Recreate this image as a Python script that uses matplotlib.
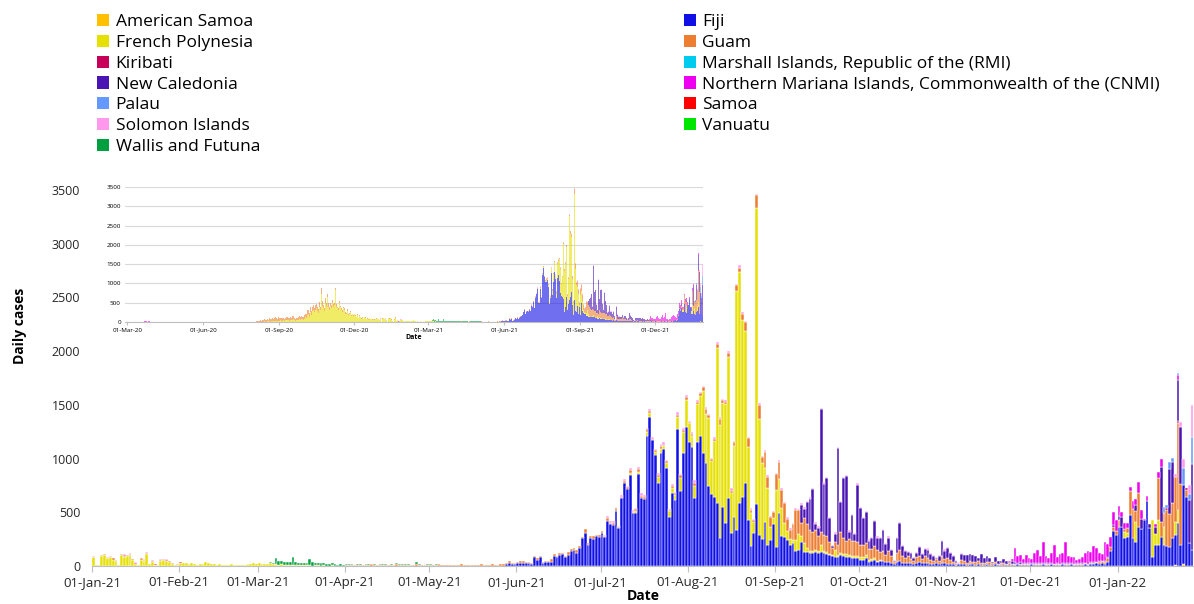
import matplotlib
matplotlib.use("Agg")
import matplotlib.pyplot as plt
import matplotlib.dates as mdates
from matplotlib.patches import Patch
import numpy as np
import pandas as pd

plt.rcParams["font.family"] = ["Open Sans", "DejaVu Sans"]

FIRST, LAST = "2020-03-01", "2022-01-27"
MAIN_FROM = "2021-01-01"

# ---- daily cases: (first day, values) per stretch ----
fiji_start = "2021-05-28"
fiji = [20, 30, 15, 15, 30, 30, 30, 25, 25, 20, 80, 55, 85, 30, 35, 35, 40, 95, 80, 100,
        110, 80, 100, 140, 150, 120, 170, 260, 310, 200, 260, 250, 280, 270, 304,
        273, 422, 390, 381, 508, 350, 630, 775, 720, 850, 496, 490, 860, 636, 623, 1212,
        1390, 1172, 1038, 775, 1048, 1085, 915, 460, 675, 614,
        1280, 700, 1048, 1290, 1156, 1110, 630, 1150, 1209, 1050, 955, 744, 670, 645, 589,
        257, 552, 397, 636, 304, 459, 335, 583, 645, 775, 428, 186, 304, 577, 288, 248,
        412, 195, 240, 390, 180, 490,
        279, 273, 242, 195, 211, 143, 149, 226, 133, 133, 118, 118, 133, 118, 133, 118,
        110, 100, 90, 85, 80, 100, 90, 80, 80, 75, 70, 70,
        60, 55, 70, 40, 45, 60, 40, 45, 50, 35, 40, 30, 20, 35, 50, 30, 25, 30, 25, 20,
        30, 35, 25, 30, 25, 20, 20, 25, 20, 30, 25, 20, 20, 15, 10, 15, 20,
        15, 10, 20, 15, 10, 15, 10, 10, 15, 10, 10, 15, 10, 10, 8, 10, 10, 8, 10, 15,
        10, 12, 10, 8, 15, 12, 10, 10, 15, 12, 10, 15, 12, 10, 8, 15, 10, 12, 15, 10,
        10, 12, 10, 15, 10, 15, 20, 25, 15, 30, 20, 40,
        143, 329, 288, 366, 360, 257, 267, 474, 257, 226, 366, 341, 428, 608, 350, 87,
        195, 195, 273, 195, 186, 180, 257, 279, 397, 195, 738, 645, 211, 150]

fp_2020_start = "2020-08-01"
fp_2020 = [0, 0, 0, 0, 0, 0, 0, 0, 5, 0, 10, 5, 0, 15, 10, 5, 20, 10, 15, 25, 10, 20, 30, 15,
           25, 20, 35, 30, 20, 40, 25,
           30, 45, 20, 35, 50, 40, 25, 45, 60, 35, 50, 40, 30, 55, 45, 35, 60, 70, 40, 30,
           55, 65, 50, 45, 70, 60, 50, 80, 65, 55,
           90, 120, 150, 110, 180, 200, 140, 250, 220, 180, 280, 300, 250, 200, 320, 350,
           280, 230, 400, 380, 300, 730, 420, 350, 280, 630, 500, 400, 640, 380, 300,
           480, 420, 350, 500, 380, 300, 450, 820, 400, 350, 300, 420, 480, 380, 300, 250,
           350, 280, 300, 220, 200, 280, 250, 180, 200, 260, 150, 200, 180, 150,
           200, 150, 120, 180, 140, 100, 160, 120, 90, 140, 110, 80, 120, 100, 70, 110, 90,
           60, 100, 80, 70, 90, 60, 80, 50, 70, 90, 60, 80, 70, 50]
fp_2021_start = "2021-01-01"
fp_2021 = [81, 5, 5, 90, 100, 70, 80, 60, 50, 10, 100, 80, 95, 103, 60, 20, 10, 60, 50, 112,
           15, 40, 10, 10, 50, 56, 45, 40, 20, 10, 10,
           30, 25, 30, 20, 25, 15, 10, 15, 20, 40, 25, 20, 15, 10, 15, 10, 10, 12, 15, 10,
           8, 10, 12, 10, 15, 20, 25, 20,
           25, 20, 15, 20, 25, 20, 15, 10, 15, 10, 5, 10, 10, 5, 10, 5, 5, 8, 5, 4, 5, 6, 4,
           5, 3, 4, 5, 3, 4, 3, 4]
fp_wave_start = "2021-07-10"
fp_wave = [0, 15, 0, 20, 15, 0, 0,
           35, 36, 0, 20, 50, 37, 30, 40, 50, 47, 43,
           110, 115, 200, 254, 171, 99, 114,
           358, 377, 582, 462, 630,
           310, 515, 1442, 1057, 962, 1111, 1308, 376, 661, 2228, 2155, 1645, 1417, 679,
           304, 106, 2753, 1079, 709, 501, 535,
           124, 60, 530, 320, 258, 130,
           80, 60, 30, 100, 150, 50, 80, 30, 20, 20, 20, 20, 60, 20, 20, 15, 10, 60, 20, 25,
           20, 30, 20, 15, 20, 25, 20, 25, 30, 15, 20, 15, 10, 10]
fp_2022_start = "2022-01-01"
fp_2022 = [0, 0, 60, 40, 0, 0, 180, 0, 0, 0, 0, 0, 341, 100, 233, 0, 170, 0, 0, 0, 120, 124,
           0, 0, 0, 0, 0]

guam_2020a_start = "2020-03-16"
guam_2020a = [3, 5, 2, 4, 6, 10, 8, 12, 5, 7, 4, 10, 8, 6, 3, 5, 4, 2, 6, 3, 2, 4, 1, 2, 3]
guam_2020_start = "2020-08-01"
guam_2020 = [5, 10, 8, 20, 15, 30, 25, 20, 40, 35, 30, 50, 45, 60, 40, 55, 70, 60, 45, 80,
             65, 50, 70, 90, 60, 75, 85, 70, 60, 80, 95,
             70, 60, 85, 75, 90, 65, 50, 70, 80, 60, 90, 75, 65, 80, 70, 60, 85, 95, 70, 60,
             50, 75, 65, 80, 90, 70, 60, 85, 75, 65,
             80, 95, 110, 90, 120, 100, 85, 130, 110, 95, 120, 140, 100, 90, 115, 125, 105,
             95, 130, 110, 90, 150, 120, 100, 80, 110, 130, 95, 85, 100, 90,
             80, 70, 95, 60, 75, 85, 55, 65, 70, 50, 60, 45, 55, 40, 50, 60, 35, 45, 50, 40,
             30, 45, 35, 40, 25, 30, 35, 20, 30, 25,
             20, 25, 15, 30, 20, 15, 25, 10, 20, 15, 25, 10, 15, 20, 10, 15, 10, 20, 5, 10,
             15, 10, 5, 10, 15, 5, 10, 10, 5, 10, 5]
guam_jan_start = "2021-01-01"
guam_jan = [5, 0, 0, 8, 10, 5, 6, 10, 4, 0, 8, 12, 6, 10, 5, 0, 0, 10, 6, 8, 0, 5, 0, 0, 6,
            8, 5, 6, 4, 0, 5]
guam_spring_start = "2021-04-01"
guam_spring = [8, 5, 10, 6, 12, 8, 5, 10, 7, 15, 8, 6, 10, 12, 5, 8, 10, 6, 20, 8, 5, 10, 12,
               6, 8, 15, 10, 5, 8, 10, 12, 6, 8, 20, 10, 8, 5, 12, 10, 8, 6, 15, 10, 8, 12, 5,
               10, 8, 20, 12, 10, 8, 15, 10, 12, 20, 15, 10, 12, 15]
guam_start = "2021-05-31"
guam = [10, 5, 15, 20, 10, 8, 10, 15, 20, 10, 8, 12, 10, 25, 15, 10, 20, 15, 10, 30, 20, 15,
        25, 20, 10, 30, 15, 20, 25, 10, 15, 20, 10, 25, 15, 20, 30, 15, 10, 20, 15, 25, 10,
        20, 30, 15, 20, 25, 15, 10, 20, 25, 30, 15, 20, 10, 25, 20, 15, 30, 20, 25, 15, 20, 30,
        20, 20, 30, 40, 30, 20, 20, 40, 50, 30, 20, 40, 20, 30, 50, 40, 60, 80, 80, 30, 20,
        120, 130, 60, 150, 100, 93, 49, 150, 160,
        170, 180, 120, 80, 150, 280, 220, 120, 230, 230, 200, 180, 180, 140, 120, 150, 150,
        110, 70, 80, 100, 190, 150, 120, 150, 140, 140, 130,
        120, 120, 110, 100, 90, 110, 100, 80, 90, 70, 100, 60, 20, 90, 100, 60, 50, 60, 40,
        30, 50, 60, 40, 60, 50, 40, 30, 40, 30, 60, 40, 50, 40, 20, 15, 10, 40,
        30, 20, 30, 20, 25, 30, 20, 15, 20, 25, 15, 20, 10, 15, 20, 10, 15, 10, 10, 5, 10, 5,
        5, 10, 5, 5, 5, 10, 5, 5, 10, 5, 5, 5, 10, 5, 5, 10, 5, 5, 5, 10, 5, 10, 5, 10, 5,
        10, 20, 15, 20, 30,
        30, 30, 40, 60, 0, 30, 50, 220, 270, 110, 310, 0, 0, 0, 0, 0, 0, 388, 140, 124, 335,
        300, 325, 420, 806, 570, 0, 60, 0, 0]

nc_start = "2021-09-08"
new_caledonia = [0, 0, 170, 90, 200, 290, 400, 60, 80, 1144, 480, 540, 218, 20, 75, 899, 277,
                 560, 606, 70, 244, 70, 532,
                 342, 243, 295, 77, 108, 233, 113, 128, 191, 96, 123, 55, 6, 138, 246, 95, 64,
                 43, 58, 21, 43, 81, 43, 64, 73, 48, 42, 12, 42, 142, 74, 94, 63, 57, 21, 5, 48,
                 60, 70, 60, 70, 60, 30, 80, 50, 60, 40, 10, 50, 30, 20, 40, 30, 10, 30, 20, 10,
                 20, 10, 10, 10, 10, 10,
                 10, 10, 5, 10, 10, 5, 5, 10, 5, 10, 10, 5, 10, 5, 10, 5, 10, 5, 5, 10, 10, 5,
                 10, 5, 10, 10,
                 0, 20, 0, 40, 100, 0, 0, 0, 0, 55, 0, 100, 0, 0, 40, 0, 70, 0, 510, 0, 0, 420,
                 390, 0, 387, 530, 0, 0, 400, 800]

cnmi_2020_start = "2020-03-20"
cnmi_2020 = [2, 4, 6, 3, 8, 5, 10, 6, 4, 8, 5, 3, 6, 2, 4]
cnmi_start = "2021-11-23"
cnmi = [10, 20,
        124, 62, 62, 40, 77, 45, 35, 93, 124, 62, 201, 62, 45, 93, 170, 62, 93, 93, 201, 62,
        50, 60, 35, 40, 62, 93, 124, 93, 155, 124, 77, 62, 170, 124,
        100, 126, 100, 92, 45, 50, 40, 38, 81, 50, 108, 80, 6, 43, 0, 0, 30, 62, 70, 0, 0, 0,
        0, 0, 47, 0, 0, 0, 0, 0]

palau_start = "2022-01-17"
palau = [60, 30, 70, 30, 0, 20, 0, 160, 0, 60, 250]

solomon_jan_start = "2021-01-01"
solomon_jan = [5, 0, 0, 8, 5, 10, 6, 0, 5, 0, 6, 10, 5, 8, 0, 6, 0, 5, 8, 6, 0, 10, 0, 4, 6,
               5, 8, 0, 6, 0, 5]
solomon_start = "2021-07-02"
solomon = [10, 15, 10, 20, 15, 10, 25, 15, 10, 20, 15, 10, 20, 25, 15, 10, 20, 15, 10, 15,
           20, 25, 15, 10, 20, 15, 25, 10, 15, 20, 10, 15, 25, 20, 15, 10, 20, 15, 10, 25, 15,
           20, 10, 15, 20, 25, 15, 10, 20, 15, 10, 15, 20, 10, 15, 25, 10, 15, 20, 10, 15, 10,
           20, 15, 10, 15, 20, 10, 15, 10, 20, 15, 10, 15, 10, 20, 10, 15, 10, 10, 15, 10, 20,
           10, 15, 10, 10, 15, 10, 10, 15, 10, 10, 10, 15, 10, 10, 15, 10, 10, 10, 15, 10, 10,
           10, 15, 10, 10, 10, 10, 15, 10, 10, 10, 10, 15, 10, 10, 10, 10, 10, 15, 10, 10, 10,
           10, 10, 10]
solomon_2022_start = "2022-01-21"
solomon_2022 = [30, 0, 50, 80, 0, 80, 300]

samoa_start = "2021-01-04"
samoa = [0, 0, 0, 0, 0, 0, 0, 0, 10, 0, 0, 0, 12, 0, 0, 0, 0, 0, 0, 8, 0, 0, 0, 10, 0, 0, 0,
         0, 6]
kiribati_start = "2022-01-18"
kiribati = [15, 0, 0, 0, 20, 0, 0, 25]
wallis_start = "2021-03-05"
wallis = [15, 10, 56, 40, 30, 25, 30, 25, 78, 30, 20, 20, 25, 20, 62, 30, 25, 20, 20, 25, 15,
          15, 20, 15, 10, 15, 10, 10, 12, 10, 8, 10, 12, 8, 10, 8, 6, 10, 8, 6, 8, 10, 6, 8, 5,
          6, 8, 10, 6, 5, 8, 6, 20, 5, 8, 6, 5, 4, 6, 8]
am_samoa_start = "2022-01-20"
am_samoa = [0, 10, 0, 0, 15]
rmi = []
vanuatu = []

days = pd.date_range(FIRST, LAST, freq="D")


def daily(*parts):
    s = pd.Series(0.0, index=days)
    for start, vals in parts:
        idx = pd.date_range(start, periods=len(vals), freq="D")
        keep = idx <= days[-1]
        s.loc[idx[keep]] = np.asarray(vals, dtype=float)[keep]
    return s


# stacking order = alphabetical, as in the source workbook
COUNTRIES = [
    ("American Samoa", "#ffc000", daily((am_samoa_start, am_samoa))),
    ("Fiji", "#1010e6", daily((fiji_start, fiji))),
    ("French Polynesia", "#e6e000", daily((fp_2020_start, fp_2020), (fp_2021_start, fp_2021),
                                          (fp_wave_start, fp_wave), (fp_2022_start, fp_2022))),
    ("Guam", "#ed7d31", daily((guam_2020a_start, guam_2020a), (guam_2020_start, guam_2020),
                              (guam_jan_start, guam_jan), (guam_spring_start, guam_spring),
                              (guam_start, guam))),
    ("Kiribati", "#c8005a", daily((kiribati_start, kiribati))),
    ("Marshall Islands, Republic of the (RMI)", "#00ccf0", daily(("2021-01-01", rmi))),
    ("New Caledonia", "#4a14b4", daily((nc_start, new_caledonia))),
    ("Northern Mariana Islands, Commonwealth of the (CNMI)", "#f000f0",
     daily((cnmi_2020_start, cnmi_2020), (cnmi_start, cnmi))),
    ("Palau", "#6699ff", daily((palau_start, palau))),
    ("Samoa", "#ff0000", daily((samoa_start, samoa))),
    ("Solomon Islands", "#ff99ee", daily((solomon_jan_start, solomon_jan),
                                         (solomon_start, solomon),
                                         (solomon_2022_start, solomon_2022))),
    ("Vanuatu", "#00e600", daily(("2021-01-01", vanuatu))),
    ("Wallis and Futuna", "#00a040", daily((wallis_start, wallis))),
]

fig = plt.figure(figsize=(11.94, 6.04), dpi=100)
ax = fig.add_axes([0.0771, 0.0629, 0.9229, 0.6225])
ax_in = fig.add_axes([0.1047, 0.4669, 0.4841, 0.2235])

x_all = mdates.date2num(days)


def stack(axis, mask, edge, alpha):
    bottom = np.zeros(mask.sum())
    for name, color, s in COUNTRIES:
        v = s.to_numpy()[mask]
        nz = v > 0
        if nz.any():
            axis.bar(x_all[mask][nz], v[nz], bottom=bottom[nz], width=1.0, align="edge",
                     color=color, alpha=alpha, edgecolor=edge,
                     linewidth=0.35 if edge != "none" else 0)
        bottom += v


stack(ax, days >= pd.Timestamp(MAIN_FROM), "white", 1.0)
stack(ax_in, np.ones(len(days), bool), "none", 0.6)

# main chart
x0 = mdates.date2num(pd.Timestamp(MAIN_FROM))
ax.set_xlim(x0, x0 + 392.2)
ax.set_ylim(0, 3500)
ax.set_yticks(range(0, 3501, 500))
ax.xaxis.set_major_locator(mdates.MonthLocator())
ax.xaxis.set_major_formatter(mdates.DateFormatter("%d-%b-%y"))
for sp in ("top", "right", "left"):
    ax.spines[sp].set_visible(False)
ax.spines["bottom"].set_color("#bfbfbf")
ax.tick_params(axis="y", length=0, labelsize=9, pad=8.5, labelcolor="#262626")
ax.tick_params(axis="x", length=4, color="#bfbfbf", labelsize=9.5, pad=3,
               labelcolor="#262626")
ax.set_ylabel("Daily cases", fontsize=10, fontweight="bold")
ax.yaxis.set_label_coords(-0.059, 0.638)
ax.set_xlabel("Date", fontsize=10, fontweight="bold", labelpad=0)
ax.patch.set_alpha(0)

# inset: whole pandemic period
ax_in.set_xlim(mdates.date2num(pd.Timestamp("2020-02-27")), x_all[-1] + 1)
ax_in.set_ylim(0, 3500)
ax_in.set_yticks(range(0, 3501, 500))
ax_in.xaxis.set_major_locator(mdates.MonthLocator(bymonth=[3, 6, 9, 12]))
ax_in.xaxis.set_major_formatter(mdates.DateFormatter("%d-%b-%y"))
ax_in.grid(axis="y", color="#d9d9d9", lw=0.8)
ax_in.set_axisbelow(True)
for sp in ("top", "right", "left"):
    ax_in.spines[sp].set_visible(False)
ax_in.spines["bottom"].set_color("#bfbfbf")
ax_in.tick_params(axis="y", length=0, labelsize=4.5, pad=3)
ax_in.tick_params(axis="x", length=2, color="#bfbfbf", labelsize=4.5, pad=2)
ax_in.set_xlabel("Date", fontsize=5, fontweight="bold", labelpad=1)

# legend, two columns in alphabetical row order
handles = [Patch(facecolor=c, edgecolor="none", label=n) for n, c, _ in COUNTRIES]
leg_kw = dict(frameon=False, fontsize=12.5, handlelength=0.7, handleheight=0.7,
              handletextpad=0.35, labelspacing=0.27, borderaxespad=0, borderpad=0)
fig.legend(handles=handles[0::2], loc="upper left", bbox_to_anchor=(0.0815, 0.977), **leg_kw)
fig.legend(handles=handles[1::2], loc="upper left", bbox_to_anchor=(0.5725, 0.977), **leg_kw)

fig.savefig("out.png", dpi=100)
